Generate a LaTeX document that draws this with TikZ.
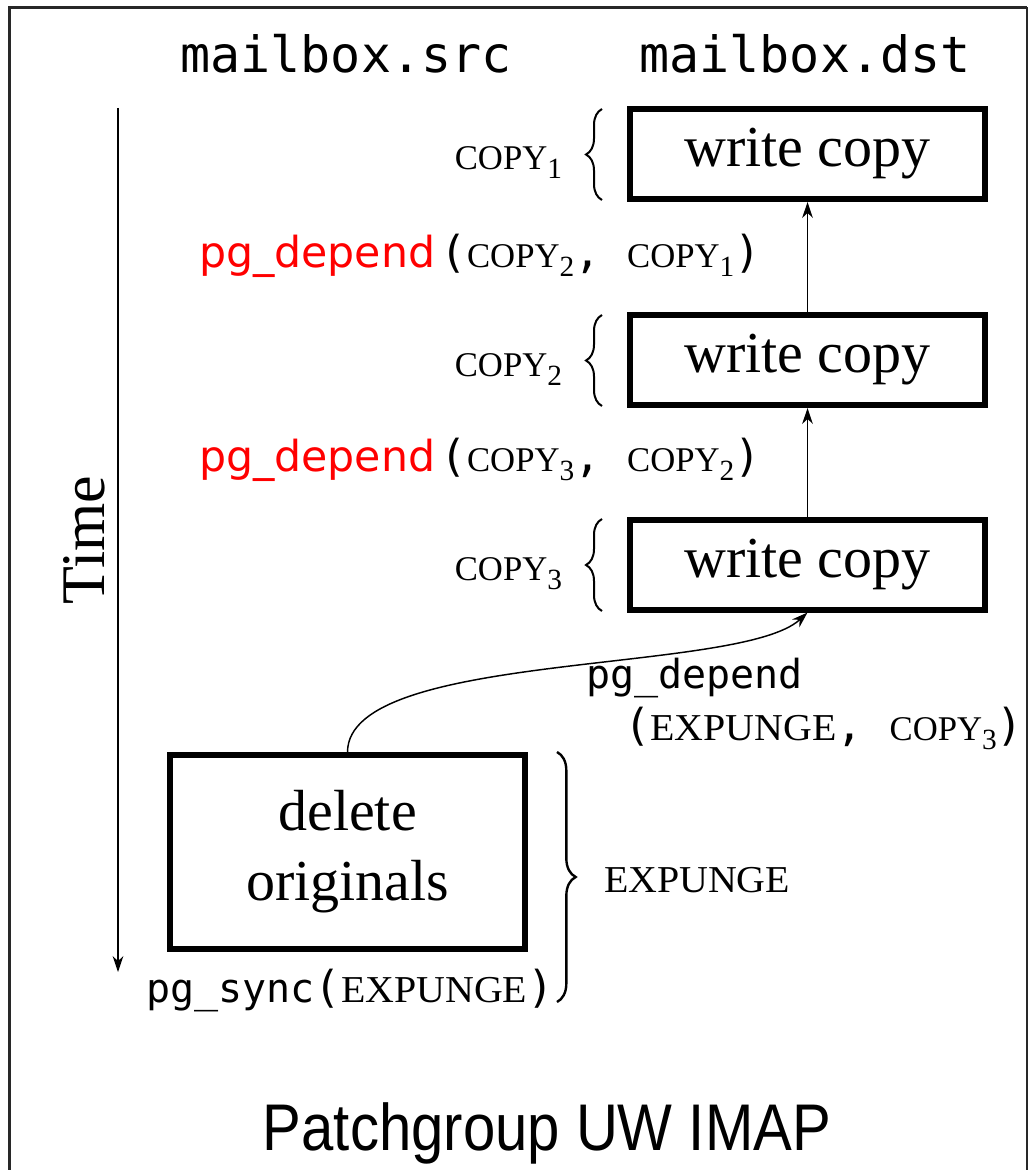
\documentclass[tikz,border=0pt]{standalone}
\usepackage{fontspec}
\usepackage{graphicx}
\usetikzlibrary{arrows.meta,decorations.pathreplacing}
\setmainfont{Liberation Serif}
\setmonofont{DejaVu Sans Mono}
\newfontfamily\redsans{DejaVu Sans}
\newfontfamily\titlesans{Liberation Sans}
\definecolor{pgred}{RGB}{255,0,0}
\definecolor{framegray}{RGB}{40,40,40}

% small-caps style keywords (capitals, set small)
\newcommand\kwcopy{{\rmfamily\fontsize{26pt}{29pt}\selectfont COPY}}
\newcommand\kwexp{\scalebox{1.05}[1]{\rmfamily\fontsize{28.5pt}{31pt}\selectfont EXPUNGE}}
\newcommand\subd[1]{\raisebox{-6.75pt}{\rmfamily\fontsize{22pt}{24pt}\selectfont #1}}
\newcommand\cpy[1]{\kwcopy\subd{#1}}
% typewriter punctuation and calls
\newcommand\mt[1]{{\ttfamily\fontsize{33pt}{36pt}\selectfont #1}}
\newcommand\call[1]{{\ttfamily\fontsize{30pt}{34pt}\selectfont #1}}
\newcommand\redcall[1]{{\color{pgred}\redsans\fontsize{32pt}{36pt}\selectfont #1}}

\tikzset{
  wbox/.style={draw, line width=4.5pt, minimum width=266.25pt, minimum height=67.5pt,
               inner sep=0pt, font=\fontsize{43.5pt}{52.5pt}\selectfont},
  dbox/.style={wbox, minimum height=145.5pt, align=center},
  lbl/.style={inner sep=0pt, outer sep=0pt},
  arr/.style={line width=1.1pt, -{Stealth[length=12pt,width=8pt]}},
  lbrace/.style={decorate, decoration={brace, amplitude=12pt}, line width=1.5pt},
  rbrace/.style={decorate, decoration={brace, amplitude=14pt}, line width=1.8pt},
}

\begin{document}
\begin{tikzpicture}[x=0.75pt,y=-0.75pt]
\useasboundingbox (0,0) rectangle (1028,1170);
\fill[white] (0,0) rectangle (1028,1170);

% frame
\draw[framegray, line width=2.6pt] (9.5,1200) -- (9.5,7.5) -- (1027,7.5);
\draw[framegray, line width=1.3pt] (1027,7.5) -- (1027,1200);

% column headings
\node[lbl, anchor=base] (src) at (346,73) {\ttfamily\fontsize{37.5pt}{40pt}\selectfont mailbox.src};
\node[lbl, anchor=base] (dst) at (805,73) {\ttfamily\fontsize{37.5pt}{40pt}\selectfont mailbox.dst};

% time axis
\coordinate (t0) at (118,108);
\coordinate (t1) at (118,972);
\draw[arr] (t0) -- (t1);
\node[lbl, rotate=90] (time) at (84,540) {\fontsize{46.5pt}{50pt}\selectfont Time};

% write copies on the destination mailbox
\node[wbox] (b1) at (807.5,154) {write copy};
\node[wbox] (b2) at (807.5,360) {write copy};
\node[wbox] (b3) at (807.5,564.5) {write copy};

% expunge on the source mailbox
\node[dbox] (del) at (347.5,852) {delete\\originals};

% dependencies
\draw[arr] (b2.north) -- (b1.south);
\draw[arr] (b3.north) -- (b2.south);
\draw[arr] (del.north) .. controls (348,650) and (740,675) .. (b3.south);

% patch braces
\coordinate (c1a) at (602,200); \coordinate (c1b) at (602,109);
\coordinate (c2a) at (602,406); \coordinate (c2b) at (602,315);
\coordinate (c3a) at (602,611); \coordinate (c3b) at (602,519);
\draw[lbrace] (c1a) -- (c1b);
\draw[lbrace] (c2a) -- (c2b);
\draw[lbrace] (c3a) -- (c3b);
\coordinate (ea) at (557,752); \coordinate (eb) at (557,1002);
\draw[rbrace] (ea) -- (eb);

% patch names
\node[lbl, anchor=base east] (n1) at (562,170) {\cpy{1}};
\node[lbl, anchor=base east] (n2) at (562,376) {\cpy{2}};
\node[lbl, anchor=base east] (n3) at (562,580) {\cpy{3}};
\node[lbl, anchor=base west] (nx) at (604,892) {\kwexp};

% dependency calls
\node[lbl, anchor=base west] (d21) at (199,267) {\redcall{pg\_depend}\hspace{4pt}\mt{(}\cpy{2}\mt{,\ }\cpy{1}\mt{)}};
\node[lbl, anchor=base west] (d32) at (199,471) {\redcall{pg\_depend}\hspace{4pt}\mt{(}\cpy{3}\mt{,\ }\cpy{2}\mt{)}};
\node[lbl, anchor=base west] (dx3a) at (586,688) {\call{pg\_depend}};
\node[lbl, anchor=base west] (dx3b) at (624,740) {\mt{(}\kwexp\mt{,\ }\cpy{3}\mt{)}};
\node[lbl, anchor=base west] (sync) at (146,1002) {\call{pg\_sync}\mt{(}\kwexp\mt{)}};

% title
\node[lbl, anchor=base] (title) at (547,1150) {\titlesans\fontsize{49.5pt}{55pt}\selectfont\scalebox{0.88}[1]{Patchgroup UW IMAP}};
\end{tikzpicture}
\end{document}
